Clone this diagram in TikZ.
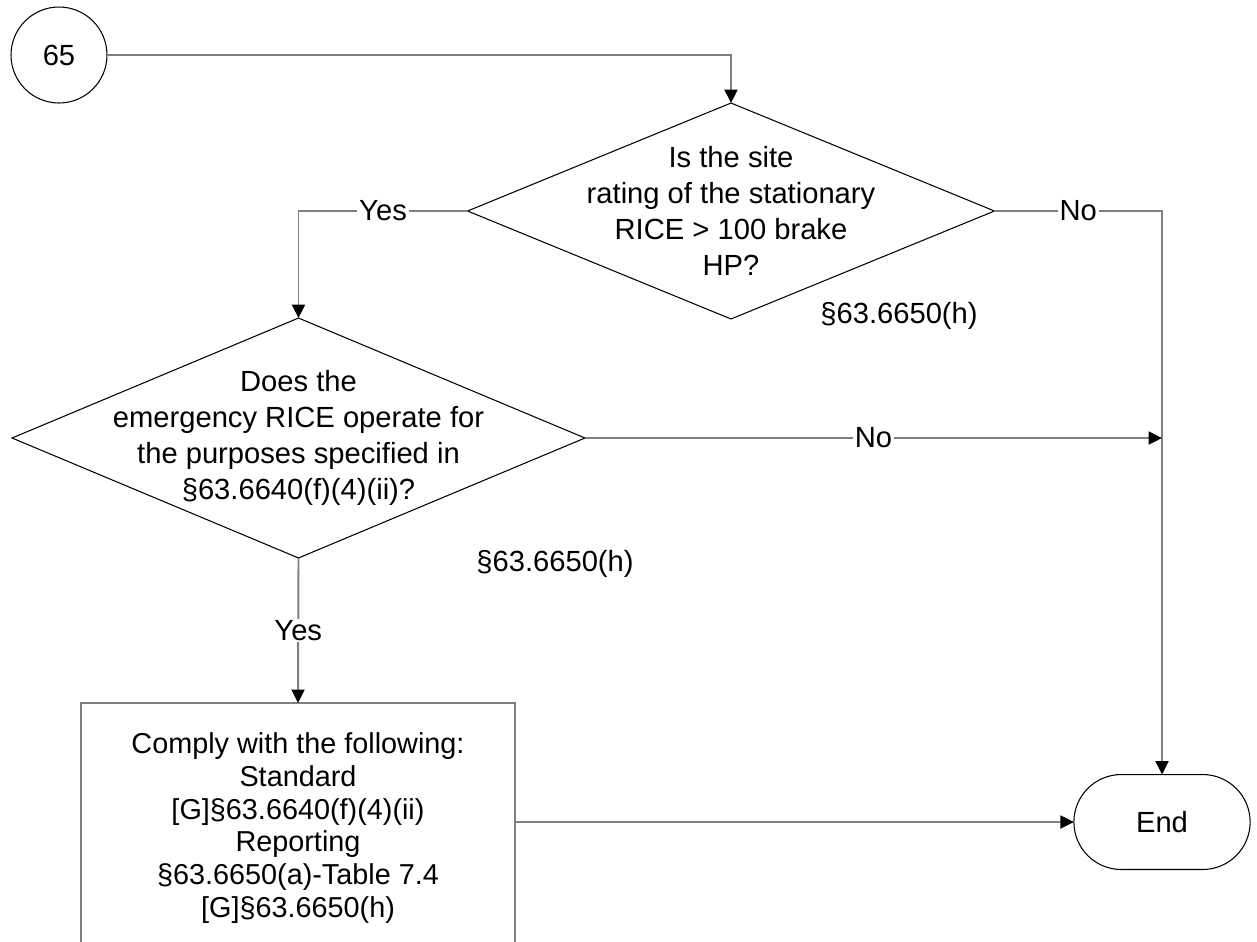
\documentclass[tikz,border=0pt]{standalone}
\usepackage{fontspec}
\setmainfont{Liberation Sans}
\usetikzlibrary{arrows.meta,shapes.geometric,shapes.misc}
\definecolor{linegray}{RGB}{128,128,128}
\tikzset{
	line/.style={draw=linegray, line width=1.1pt},
	arrow/.style={line, -{Triangle[length=0.27cm,width=0.26cm,color=black]}},
	decision/.style={diamond, draw=black, line width=0.6pt, inner sep=0pt, outer sep=0pt},
	connector/.style={circle, draw=black, line width=0.6pt, minimum size=1.92cm, inner sep=0pt},
	terminal/.style={rounded rectangle, draw=black, line width=0.6pt, minimum width=3.76cm, minimum height=1.9cm, outer sep=0pt},
	process/.style={rectangle, draw=linegray, line width=1.1pt, minimum width=8.7cm, minimum height=5cm, outer sep=0pt, align=center, font=\fontsize{16.4}{18.7}\selectfont},
	lbl/.style={fill=white, inner sep=1pt},
	txt/.style={align=center},
}

\begin{document}
\begin{tikzpicture}[x=0.02cm, y=-0.02cm, font=\fontsize{16.6}{20.4}\selectfont]
	\path[use as bounding box, clip] (0,0) rectangle (1257,941);

	\node[connector] (c65) at (59,55) {65};
	\node[decision, minimum width=10.54cm, minimum height=4.32cm] (d1) at (731,211) {};
	\node[txt] (d1text) at (d1) {Is the site\\rating of the stationary\\RICE > 100 brake\\HP?};
	\node (refd1) at (899,316) {§63.6650(h)};
	\node[decision, minimum width=11.46cm, minimum height=4.8cm] (d2) at (298.5,438) {};
	\node[txt] (d2text) at (d2) {Does the\\emergency RICE operate for\\the purposes specified in\\§63.6640(f)(4)(ii)?};
	\node (refd2) at (555,564) {§63.6650(h)};
	\node[process, anchor=north] (comply) at (298,703) {Comply with the following:\\Standard\\{[G]§63.6640(f)(4)(ii)}\\Reporting\\§63.6650(a)-Table 7.4\\{[G]§63.6650(h)}};
	\node[terminal] (endn) at (1162,822) {End};

	\draw[arrow] (c65.east) -| (d1.north);
	\draw[arrow] (d1.west) -| node[lbl, pos=0.25] {Yes} (d2.north);
	\draw[arrow] (d1.east) -| node[lbl, pos=0.25] {No} (endn.north);
	\draw[arrow] (d2.east) -- node[lbl] {No} (d2.east -| endn.north);
	\draw[arrow] (d2.south) -- node[lbl] {Yes} (comply.north);
	\draw[arrow] (comply.east |- endn.west) -- (endn.west);
\end{tikzpicture}
\end{document}
